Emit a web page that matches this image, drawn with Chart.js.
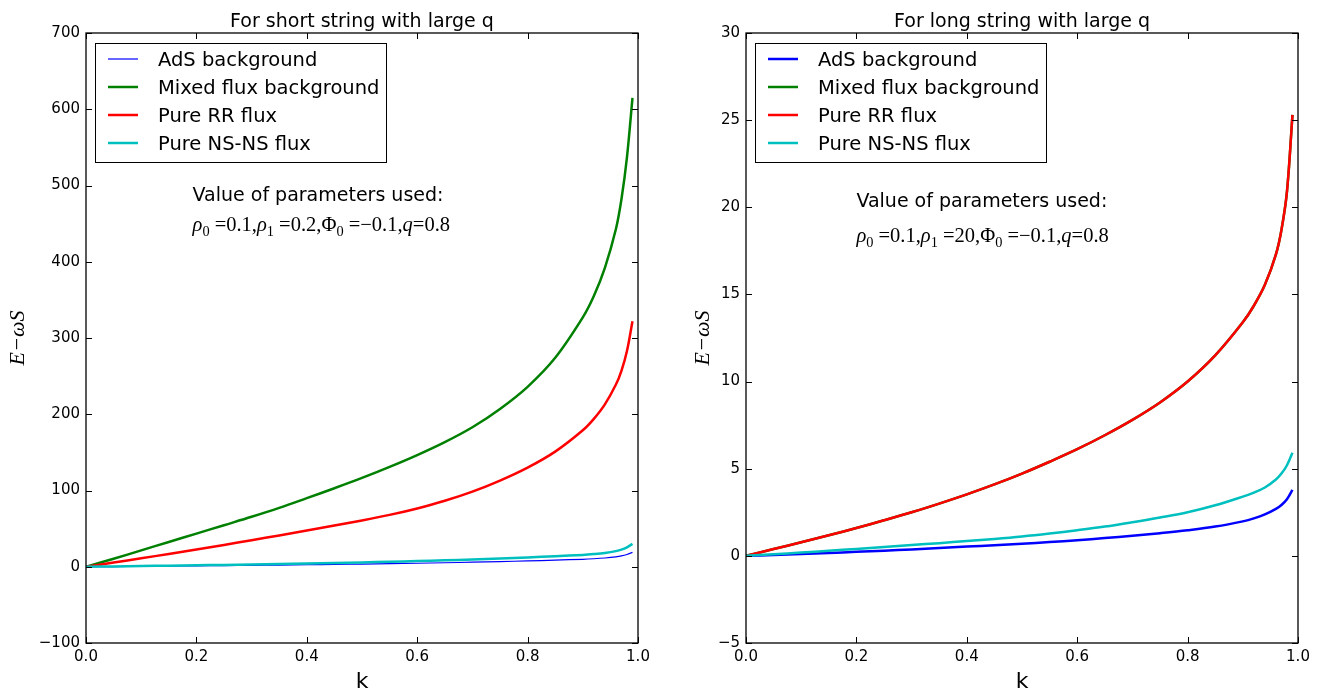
<!DOCTYPE html>
<html><head><meta charset="utf-8">
<script src="https://cdn.jsdelivr.net/npm/chart.js@4.4.0/dist/chart.umd.min.js"></script>
<style>
html,body{margin:0;padding:0;background:#fff;}
#wrap{position:relative;width:1323px;height:690px;overflow:hidden;}
.box{position:absolute;top:0;height:690px;}
</style></head><body>
<div id="wrap">
<div class="box" style="left:0;width:662px"><canvas id="c1"></canvas></div>
<div class="box" style="left:662px;width:661px"><canvas id="c2"></canvas></div>
</div>
<script>
// ---- data ----
const kValues   = [0,0.05,0.1,0.15,0.2,0.25,0.3,0.35,0.4,0.45,0.5,0.55,0.6,0.65,0.7,0.75,0.8,0.85,0.9,0.92,0.94,0.96,0.97,0.98,0.99];
const seriesNames = ['AdS background','Mixed flux background','Pure RR flux','Pure NS-NS flux'];

const shortAdS   = [0,0.25,0.55,0.85,1.2,1.5,1.85,2.2,2.6,3.05,3.55,4.05,4.6,5.25,5.95,6.75,7.65,8.7,9.8,10.5,11.5,13.0,14.2,16.1,18.8];
const shortMixed = [0,10.5,21.5,32.5,43.5,54.5,65.5,77.2,90,103,116.5,131,146.5,163.5,183,207,236,274,327,355,392,443,482,537,615];
const shortRR    = [0,5.5,11.1,16.8,22.6,28.6,34.8,41.1,47.5,54,60.7,68,76.5,86.5,98.5,113,130,151,179,194,213,239,257,283,322];
const shortNSNS  = [0,0.4,0.9,1.4,1.9,2.4,2.9,3.5,4.2,4.9,5.7,6.5,7.4,8.4,9.5,10.8,12.2,13.8,15.5,16.6,18.1,20.5,22.4,25.5,30];

const longAdS    = [0,0.05,0.11,0.17,0.23,0.3,0.37,0.45,0.53,0.61,0.69,0.79,0.9,1.02,1.15,1.3,1.47,1.68,1.98,2.15,2.38,2.7,2.92,3.25,3.78];
const longMixed  = [0,0.39,0.78,1.18,1.6,2.04,2.5,3.0,3.53,4.1,4.72,5.4,6.12,6.92,7.8,8.8,10.0,11.5,13.4,14.35,15.55,17.3,18.7,20.9,25.3];
const longRR     = [0,0.39,0.78,1.18,1.6,2.04,2.5,3.0,3.53,4.1,4.72,5.4,6.12,6.92,7.8,8.8,10.0,11.5,13.4,14.35,15.55,17.3,18.7,20.9,25.3];
const longNSNS   = [0,0.09,0.19,0.29,0.4,0.51,0.62,0.73,0.85,0.97,1.11,1.28,1.47,1.68,1.93,2.2,2.5,2.9,3.4,3.63,3.92,4.38,4.72,5.2,5.92];

const xTicks      = [0,0.2,0.4,0.6,0.8,1.0];
const yTicksShort = [-100,0,100,200,300,400,500,600,700];
const yTicksLong  = [-5,0,5,10,15,20,25,30];

const colors = ['#0000ff','#008000','#ff0000','#00bfbf'];

// ---- helpers ----
function pts(arr){ return kValues.map((k,i)=>({x:k,y:arr[i]})); }
function fmtNum(v, dec){ const s = dec ? v.toFixed(dec) : String(v); return s.replace('-', '\u2212'); }

function drawRich(ctx, segs, x, y, size){
  let cx = x;
  segs.forEach(s=>{
    const sub = s[1]==='s';
    const fs = sub ? size*0.7 : size;
    ctx.font = (s[1]==='i' ? 'italic ' : '') + fs + 'px "Liberation Serif"';
    ctx.fillText(s[0], cx, sub ? y + size*0.22 : y);
    cx += ctx.measureText(s[0]).width;
  });
}

const decoPlugin = {
  id: 'deco',
  afterDraw(chart, args, o){
    const ctx = chart.ctx, a = chart.chartArea, xs = chart.scales.x, ys = chart.scales.y;
    ctx.save();
    ctx.strokeStyle = '#000'; ctx.fillStyle = '#000';
    // inward ticks
    ctx.lineWidth = 1;
    ctx.beginPath();
    xs.ticks.forEach(t=>{ const x = Math.round(xs.getPixelForValue(t.value))+0.5;
      ctx.moveTo(x,a.bottom); ctx.lineTo(x,a.bottom-6); ctx.moveTo(x,a.top); ctx.lineTo(x,a.top+6); });
    ys.ticks.forEach(t=>{ const y = Math.round(ys.getPixelForValue(t.value))+0.5;
      ctx.moveTo(a.left,y); ctx.lineTo(a.left+6,y); ctx.moveTo(a.right,y); ctx.lineTo(a.right-6,y); });
    ctx.stroke();
    // frame
    ctx.lineWidth = 1.3;
    ctx.strokeRect(a.left, a.top, a.right-a.left, a.bottom-a.top);
    // title
    ctx.textAlign='center'; ctx.textBaseline='alphabetic';
    ctx.font = '19px "DejaVu Sans"';
    ctx.fillText(o.title, (a.left+a.right)/2, 27);
    // x label
    ctx.font = '22px "DejaVu Sans"';
    ctx.fillText('k', (a.left+a.right)/2, 688);
    // y label
    ctx.save();
    ctx.translate(o.yTitleX, (a.top+a.bottom)/2);
    ctx.rotate(-Math.PI/2);
    ctx.textBaseline='middle';
    ctx.font = 'italic 22px "Liberation Serif"';
    ctx.fillText('E\u2212\u03C9S', 0, 0);
    ctx.restore();
    // legend
    const lx = a.left+9, ly = 43, lw = 291, lh = 119;
    ctx.fillStyle = '#fff'; ctx.fillRect(lx,ly,lw,lh);
    ctx.lineWidth = 1; ctx.strokeStyle='#000';
    ctx.strokeRect(lx+0.5, ly+0.5, lw, lh);
    ctx.textAlign='left';
    ctx.font = '19.5px "DejaVu Sans"';
    seriesNames.forEach((name,i)=>{
      const y = 59 + i*28;
      ctx.strokeStyle = colors[i];
      ctx.lineWidth = o.widths[i];
      ctx.beginPath(); ctx.moveTo(a.left+22,y); ctx.lineTo(a.left+52,y); ctx.stroke();
      ctx.fillStyle = '#000';
      ctx.fillText(name, a.left+72, y+7);
    });
    // note
    ctx.fillStyle = '#000';
    ctx.font = '19px "DejaVu Sans"';
    ctx.fillText('Value of parameters used:', xs.getPixelForValue(o.noteX), ys.getPixelForValue(o.noteY1));
    drawRich(ctx, o.math, xs.getPixelForValue(o.noteX), ys.getPixelForValue(o.noteY2), 20.5);
    ctx.restore();
  }
};

function makeChart(id, series, yTicks, opts){
  const widths = opts.widths;
  const ds = series.map((arr,i)=>({
    label: seriesNames[i], data: pts(arr), borderColor: colors[i], backgroundColor: colors[i],
    borderWidth: widths[i], pointRadius: 0, fill: false, tension: 0.35
  }));
  return new Chart(document.getElementById(id), {
    type: 'line',
    data: { datasets: ds.slice().reverse() },
    plugins: [decoPlugin],
    options: {
      responsive: true, maintainAspectRatio: false, animation: false,
      layout: { padding: { top: 33, bottom: 0, left: 0, right: opts.padRight } },
      plugins: { legend: {display:false}, tooltip: {enabled:false}, deco: opts },
      scales: {
        x: { type: 'linear', min: 0, max: 1,
             grid: {display:false, drawTicks:false}, border: {display:false},
             afterBuildTicks: s => { s.ticks = xTicks.map(v=>({value:v})); },
             afterFit: s => { s.height = 47; },
             ticks: { padding: 5, color: '#000', font: {family:'DejaVu Sans', size: 15}, maxRotation: 0,
                      callback: v => fmtNum(v,1) } },
        y: { type: 'linear', min: yTicks[0], max: yTicks[yTicks.length-1],
             grid: {display:false, drawTicks:false}, border: {display:false},
             afterBuildTicks: s => { s.ticks = yTicks.map(v=>({value:v})); },
             afterFit: s => { s.width = opts.yWidth; },
             ticks: { padding: 6, color: '#000', font: {family:'DejaVu Sans', size: 15},
                      callback: v => fmtNum(v,0) } }
      }
    }
  });
}

makeChart('c1', [shortAdS, shortMixed, shortRR, shortNSNS], yTicksShort, {
  title: 'For short string with large q', yWidth: 86, padRight: 24, yTitleX: 18,
  widths: [1.2, 2.5, 2.5, 2.5], noteX: 0.193, noteY1: 480, noteY2: 440,
  math: [['\u03C1','i'],['0','s'],[' =0.1,','n'],['\u03C1','i'],['1','s'],[' =0.2,','n'],['\u03A6','n'],['0','s'],[' =\u22120.1,','n'],['q','i'],['=0.8','n']]
});
makeChart('c2', [longAdS, longMixed, longRR, longNSNS], yTicksLong, {
  title: 'For long string with large q', yWidth: 84, padRight: 25, yTitleX: 41,
  widths: [2.5, 2.5, 2.5, 2.5], noteX: 0.2, noteY1: 20, noteY2: 18,
  math: [['\u03C1','i'],['0','s'],[' =0.1,','n'],['\u03C1','i'],['1','s'],[' =20,','n'],['\u03A6','n'],['0','s'],[' =\u22120.1,','n'],['q','i'],['=0.8','n']]
});
</script>
</body></html>
